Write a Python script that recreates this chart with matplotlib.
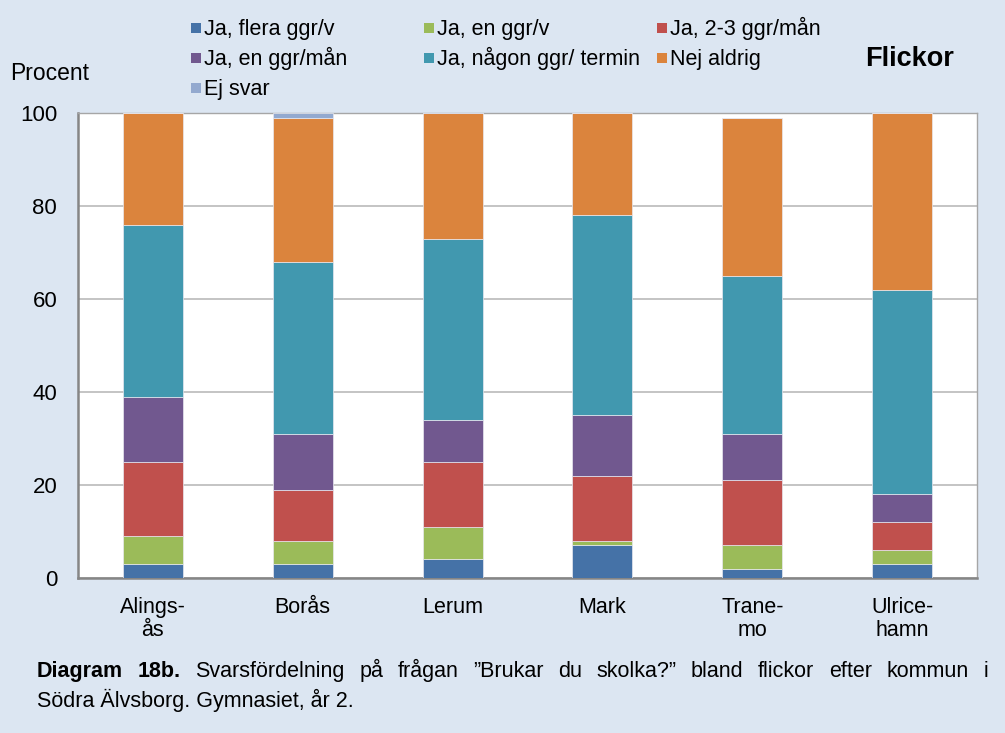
import matplotlib
matplotlib.use("Agg")
import matplotlib.pyplot as plt
from matplotlib.patches import Rectangle
import numpy as np

plt.rcParams['font.family'] = ['Liberation Sans', 'DejaVu Sans']

categories = ["Alings-\nås", "Borås", "Lerum", "Mark", "Trane-\nmo", "Ulrice-\nhamn"]
series_names = ["Ja, flera ggr/v", "Ja, en ggr/v", "Ja, 2-3 ggr/mån",
                "Ja, en ggr/mån", "Ja, någon ggr/ termin", "Nej aldrig", "Ej svar"]
flera_ggr_v = [3, 3, 4, 7, 2, 3]
en_ggr_v = [6, 5, 7, 1, 5, 3]
ggr_2_3_man = [16, 11, 14, 14, 14, 6]
en_ggr_man = [14, 12, 9, 13, 10, 6]
nagon_ggr_termin = [37, 37, 39, 43, 34, 44]
nej_aldrig = [24, 31, 27, 22, 34, 38]
ej_svar = [0, 1, 0.3, 0, 0, 0]
yticks = [0, 20, 40, 60, 80, 100]

colors = ["#4572A7", "#9BBB59", "#C0504D", "#71588F", "#4198AF", "#DB843D", "#93A9CF"]
series = [flera_ggr_v, en_ggr_v, ggr_2_3_man, en_ggr_man, nagon_ggr_termin, nej_aldrig, ej_svar]

W, H = 1005, 733
bg = "#DCE6F2"
fig = plt.figure(figsize=(W/100, H/100), dpi=100, facecolor=bg)
ax = fig.add_axes([78/W, 1-578/H, (977-78)/W, (578-113)/H])
ax.set_facecolor("white")

x = np.arange(len(categories))
bottom = np.zeros(len(categories))
for name, vals, c in zip(series_names, series, colors):
    ax.bar(x, vals, 0.4, bottom=bottom, color=c, edgecolor="#E8E8F0", linewidth=0.5,
           label=name, zorder=3)
    bottom += np.array(vals)

ax.set_xlim(-0.5, len(categories) - 0.5)
ax.set_ylim(0, 100)
ax.set_yticks(yticks)
ax.set_yticklabels([str(t) for t in yticks], fontsize=16)
ax.set_xticks(x)
ax.set_xticklabels(categories, fontsize=15.5, linespacing=1.1)
ax.yaxis.grid(True, color="#BFBFBF", linewidth=1.3, zorder=0)
ax.tick_params(axis='y', length=0, pad=15)
ax.tick_params(axis='x', length=0, pad=14)
for s in ["top", "right"]:
    ax.spines[s].set_color("#A6A6A6")
    ax.spines[s].set_linewidth(1.0)
for s in ["left", "bottom"]:
    ax.spines[s].set_color("#868686")
    ax.spines[s].set_linewidth(1.8)

# legend (row-major, three columns), built from the series
col_x = [191, 424, 657]
row_y = [28, 58, 88]
for i, (name, c) in enumerate(zip(series_names, colors)):
    r, cidx = divmod(i, 3)
    mx, my = col_x[cidx], row_y[r]
    fig.patches.append(Rectangle((mx/W, 1-(my+4.5)/H), 9.5/W, 9.5/H, transform=fig.transFigure,
                                 facecolor=c, edgecolor="none"))
    fig.text((mx+13)/W, 1-(my+7.5)/H, name, fontsize=15.5, va="baseline", ha="left")

fig.text(10/W, 1-(72+8)/H, "Procent", fontsize=16.5, va="baseline", ha="left")
fig.text(954/W, 1-(56+9.5)/H, "Flickor", fontsize=19.5, fontweight="bold", va="baseline", ha="right")

# caption, first line justified
cap_size = 15.5
line1 = [("Diagram", "bold"), ("18b.", "bold"), ("Svarsfördelning", "normal"), ("på", "normal"),
         ("frågan", "normal"), ("\u201dBrukar", "normal"), ("du", "normal"), ("skolka?\u201d", "normal"),
         ("bland", "normal"), ("flickor", "normal"), ("efter", "normal"), ("kommun", "normal"),
         ("i", "normal")]
fig.canvas.draw()
renderer = fig.canvas.get_renderer()
texts = []
widths = []
for w_, fw in line1:
    t = fig.text(0, 1-677/H, w_, fontsize=cap_size, fontweight=fw, va="baseline", ha="left")
    texts.append(t)
    widths.append(t.get_window_extent(renderer).width)
x0, x1 = 37, 988
gap = (x1 - x0 - sum(widths)) / (len(widths) - 1)
xc = x0
for t, wd in zip(texts, widths):
    t.set_x(xc / W)
    xc += wd + gap
fig.text(37/W, 1-707/H, "Södra Älvsborg. Gymnasiet, år 2.", fontsize=cap_size,
         va="baseline", ha="left")

fig.savefig("out.png", dpi=100, facecolor=bg)
